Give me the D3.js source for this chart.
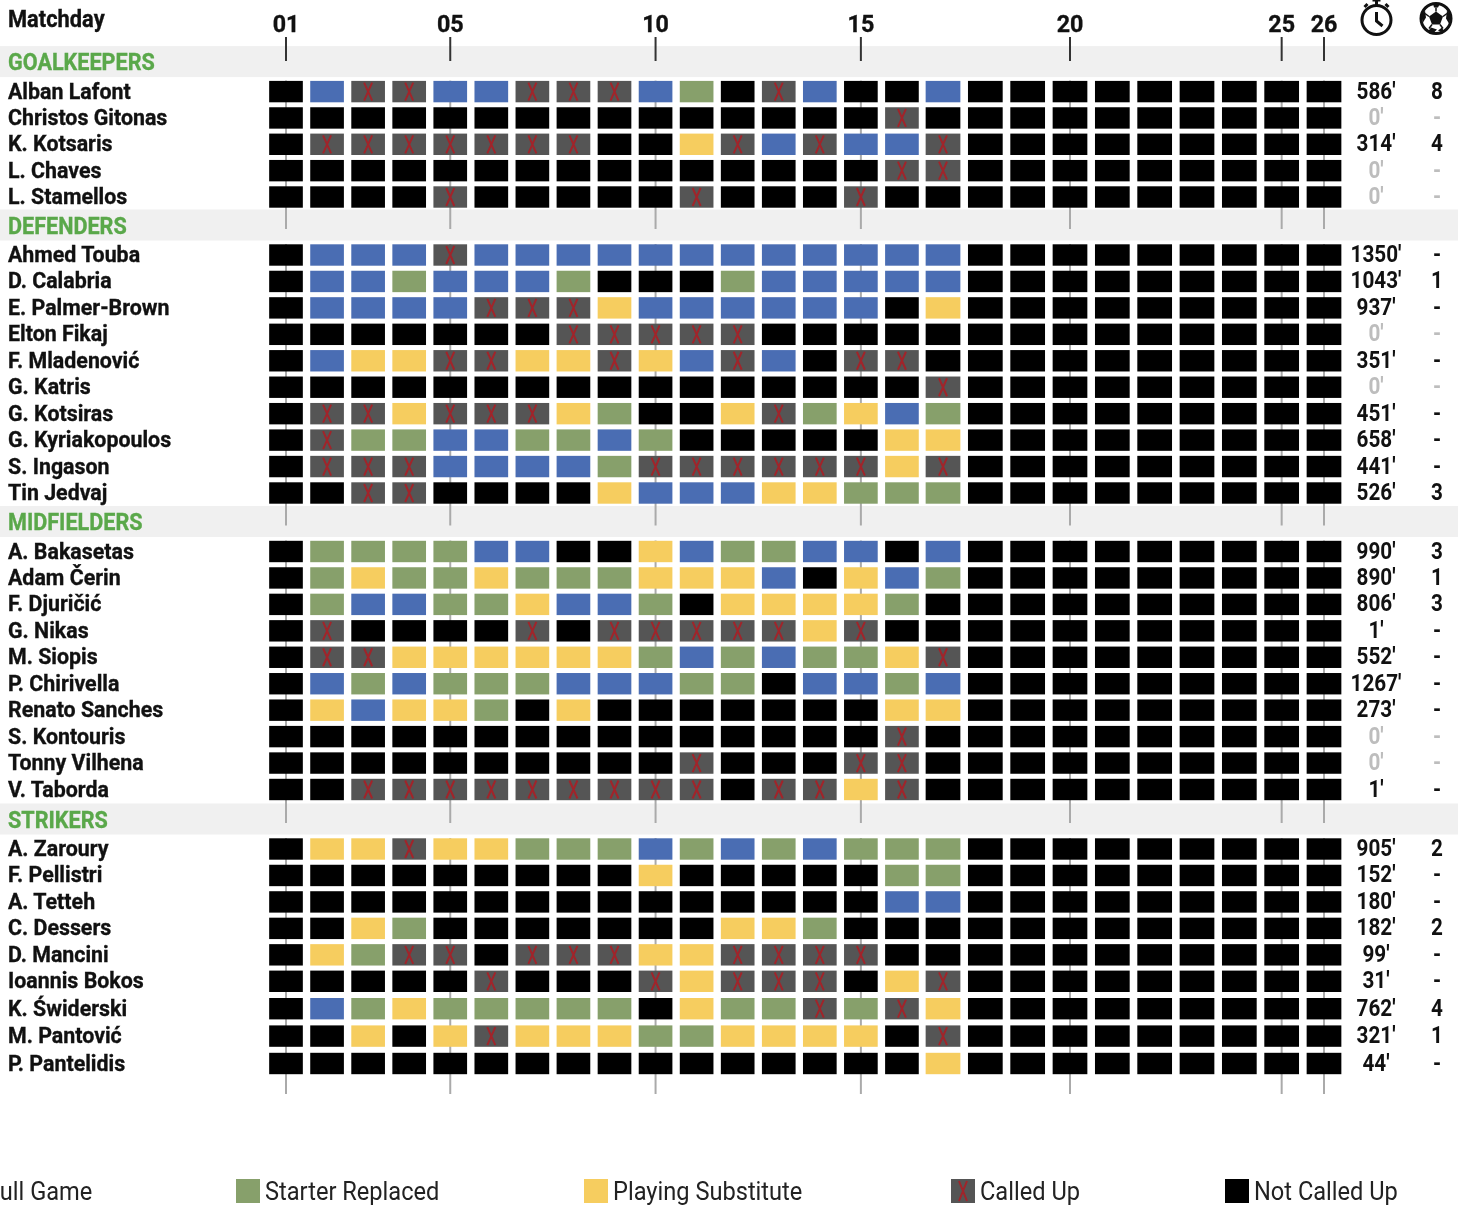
<!DOCTYPE html>
<html><head><meta charset="utf-8">
<script src="https://cdnjs.cloudflare.com/ajax/libs/d3/7.8.5/d3.min.js"></script>
<style>html,body{margin:0;padding:0;background:#fff;overflow:hidden}svg{display:block;filter:blur(.45px)}text{font-family:Roboto,sans-serif}</style>
</head><body><svg id="c" width="1458" height="1205"></svg>
<script>
const groups = ["GOALKEEPERS","DEFENDERS","MIDFIELDERS","STRIKERS"];
const groupSizes = [5,10,10,9];
const players = ["Alban Lafont","Christos Gitonas","K. Kotsaris","L. Chaves","L. Stamellos",
"Ahmed Touba","D. Calabria","E. Palmer-Brown","Elton Fikaj","F. Mladenović","G. Katris","G. Kotsiras","G. Kyriakopoulos","S. Ingason","Tin Jedvaj",
"A. Bakasetas","Adam Čerin","F. Djuričić","G. Nikas","M. Siopis","P. Chirivella","Renato Sanches","S. Kontouris","Tonny Vilhena","V. Taborda",
"A. Zaroury","F. Pellistri","A. Tetteh","C. Dessers","D. Mancini","Ioannis Bokos","K. Świderski","M. Pantović","P. Pantelidis"];
const matchStatus = [
"NFCCFFCCCFSNCFNNFNNNNNNNNN",
"NNNNNNNNNNNNNNNCNNNNNNNNNN",
"NCCCCCCCNNPCFCFFCNNNNNNNNN",
"NNNNNNNNNNNNNNNCCNNNNNNNNN",
"NNNNCNNNNNCNNNCNNNNNNNNNNN",
"NFFFCFFFFFFFFFFFFNNNNNNNNN",
"NFFSFFFSNNNSFFFFFNNNNNNNNN",
"NFFFFCCCPFFFFFFNPNNNNNNNNN",
"NNNNNNNCCCCCNNNNNNNNNNNNNN",
"NFPPCCPPCPFCFNCCNNNNNNNNNN",
"NNNNNNNNNNNNNNNNCNNNNNNNNN",
"NCCPCCCPSNNPCSPFSNNNNNNNNN",
"NCSSFFSSFSNNNNNPPNNNNNNNNN",
"NCCCFFFFSCCCCCCPCNNNNNNNNN",
"NNCCNNNNPFFFPPSSSNNNNNNNNN",
"NSSSSFFNNPFSSFFNFNNNNNNNNN",
"NSPSSPSSSPPPFNPFSNNNNNNNNN",
"NSFFSSPFFSNPPPPSNNNNNNNNNN",
"NCNNNNCNCCCCCPCNNNNNNNNNNN",
"NCCPPPPPPSFSFSSPCNNNNNNNNN",
"NFSFSSSFFFSSNFFSFNNNNNNNNN",
"NPFPPSNPNNNNNNNPPNNNNNNNNN",
"NNNNNNNNNNNNNNNCNNNNNNNNNN",
"NNNNNNNNNNCNNNCCNNNNNNNNNN",
"NNCCCCCCCCCNCCPCNNNNNNNNNN",
"NPPCPPSSSFSFSFSSSNNNNNNNNN",
"NNNNNNNNNPNNNNNSSNNNNNNNNN",
"NNNNNNNNNNNNNNNFFNNNNNNNNN",
"NNPSNNNNNNNPPSNNNNNNNNNNNN",
"NPSCCNCCCPPCCCCNNNNNNNNNNN",
"NNNNNCNNNCPCCCNPCNNNNNNNNN",
"NFSPSSSSSNPSSCSCPNNNNNNNNN",
"NNPNPCPPPSSPPPPNCNNNNNNNNN",
"NNNNNNNNNNNNNNNNPNNNNNNNNN"];
const minutes = [586,0,314,0,0, 1350,1043,937,0,351,0,451,658,441,526, 990,890,806,1,552,1267,273,0,0,1, 905,152,180,182,99,31,762,321,44];
const goals = ["8","-","4","-","-", "-","1","-","-","-","-","-","-","-","3", "3","1","3","-","-","-","-","-","-","-", "2","-","-","2","-","-","4","1","-"];
const tickDays = [1,5,10,15,20,25,26];
const statusKeys = ["F","S","P","C","N"];
const statusLabels = ["Full Game","Starter Replaced","Playing Substitute","Called Up","Not Called Up"];
const statusColors = ["#4a6db3","#87a06b","#f6cd5f","#555555","#000000"];

const svg = d3.select("#c");
const x = d3.scaleLinear().domain([1,17,26]).range([286,943,1324]);
const y = d3.scaleLinear().domain([0,4,5,14,15,24,25,30,33]).range([91.6,197,255,493,551.5,789.5,849,981.3,1063.5]);
const color = d3.scaleOrdinal().domain(statusKeys).range(statusColors);
const legendPos = d3.scaleOrdinal().domain(statusLabels).range([-42,236,584,951,1225]);
const W = 1458;
const cellW = d => (x(Math.min(d,25)+1)-x(Math.min(d,25)))*0.82;
const firstRows = d3.cumsum([0,...groupSizes.slice(0,-1)]);
const days = d3.range(1,27);
const condensed = (sel,tx,ty,k)=>sel.attr("transform",`translate(${tx},${ty}) scale(${k},1)`);
const heavy = sel=>sel.attr("stroke","currentColor").attr("stroke-width",.35);

// bands
svg.selectAll(".band").data(groups).join("rect").attr("class","band")
  .attr("x",0).attr("width",W).attr("y",(d,i)=>y(firstRows[i])-45.5).attr("height",31).attr("fill","#f0f0f0");
// tick lines
firstRows.forEach((fr,i)=>{
  const y0=y(fr)-11, y1=i<firstRows.length-1? y(firstRows[i+1])-26 : 1094;
  svg.append("g").selectAll("line").data(tickDays).join("line")
    .attr("x1",d=>x(d)).attr("x2",d=>x(d)).attr("y1",y0).attr("y2",y1)
    .attr("stroke","#aaa").attr("stroke-width",2);
});
svg.append("g").selectAll("line").data(tickDays).join("line")
  .attr("x1",d=>x(d)).attr("x2",d=>x(d)).attr("y1",37).attr("y2",61)
  .attr("stroke","#333").attr("stroke-width",2);
// tick labels
svg.append("g").attr("color","#111").selectAll("text").data(tickDays).join("text")
  .text(d=>String(d).padStart(2,"0"))
  .attr("text-anchor","middle").attr("font-size",24).attr("font-weight",700).attr("fill","#111").call(heavy)
  .each(function(d){condensed(d3.select(this),x(d),32,0.97)});
// group labels
svg.append("g").attr("color","#5aa84a").selectAll("text").data(groups).join("text").text(d=>d)
  .attr("font-size",24).attr("font-weight",700).attr("fill","#5aa84a").call(heavy)
  .each(function(d,i){condensed(d3.select(this),8,y(firstRows[i])-21.5,0.9)});
// Matchday
condensed(svg.append("text").text("Matchday").attr("color","#111").attr("font-size",23).attr("font-weight",700).attr("fill","#111").call(heavy),8,27,0.95);
// names
svg.append("g").attr("color","#111").selectAll("text").data(players).join("text").text(d=>d)
  .attr("font-size",23).attr("font-weight",700).attr("fill","#111").call(heavy)
  .each(function(d,i){condensed(d3.select(this),8,y(i)+7,0.93)});
// cells
const X = (g,h)=>g.append("path").attr("d",`M-4,${-h}L4,${h}M4,${-h}L-4,${h}`).attr("stroke","#a1242a").attr("stroke-width",2).attr("fill","none");
matchStatus.forEach((row,i)=>{
  const g = svg.append("g").attr("transform",`translate(0,${y(i)})`);
  const cells = g.selectAll("g").data(days).join("g").attr("transform",d=>`translate(${x(d)},0)`);
  cells.append("rect").attr("x",d=>-cellW(d)/2).attr("width",cellW).attr("y",-10.7).attr("height",21.4)
    .attr("fill",d=>color(row[d-1]));
  cells.filter(d=>row[d-1]==="C").call(s=>X(s,9));
});
// stats
svg.append("g").selectAll("text").data(minutes).join("text").text(d=>d+"'")
  .attr("text-anchor","middle").attr("font-size",23).attr("font-weight",700)
  .attr("fill",d=>d===0?"#bdbdbd":"#111")
  .each(function(d,i){condensed(d3.select(this),1376,y(i)+7,0.9)});
svg.append("g").selectAll("text").data(goals).join("text").text(d=>d)
  .attr("text-anchor","middle").attr("font-size",23).attr("font-weight",700)
  .attr("fill",(d,i)=>minutes[i]===0?"#bdbdbd":"#111")
  .each(function(d,i){condensed(d3.select(this),1437,y(i)+7,0.9)});
// clock
const clock = svg.append("g").attr("transform","translate(1376.5,20)").attr("fill","none").attr("stroke","#111").attr("stroke-width",3);
clock.append("circle").attr("r",14.5);
clock.append("path").attr("d","M0,-15V-19M-4,-20H4M-12,-13L-9,-16M12,-13L9,-16M0,-8V1L6,6");
// ball
const ball = svg.append("g").attr("transform","translate(1436,18.5)");
ball.append("circle").attr("r",15).attr("fill","#fff").attr("stroke","#111").attr("stroke-width",3);
ball.append("path").attr("fill","#111").attr("d","M0,-7L7,-2L4,6L-4,6L-7,-2ZM-3,-15L4,-15L2,-11L-2,-11ZM-15,-3L-11,-8L-10,-1L-13,4ZM15,-3L11,-8L10,0L13,5ZM-8,13L-5,9L1,11L-3,15ZM8,13L6,9L2,12L6,14Z");
ball.append("path").attr("fill","none").attr("stroke","#111").attr("stroke-width",1.5).attr("d","M0,-7V-11M7,-2L11,-5M-7,-2L-11,-5M4,6L7,10M-4,6L-7,10");
// legend
const lg = svg.append("g").selectAll("g").data(statusLabels).join("g").attr("transform",d=>`translate(${legendPos(d)},1191)`);
lg.append("rect").attr("y",-12).attr("width",24).attr("height",24).attr("fill",(d,i)=>statusColors[i]);
lg.filter(d=>d==="Called Up").append("g").attr("transform","translate(12,0)").call(s=>X(s,10));
lg.append("text").text(d=>d).attr("font-size",25).attr("fill","#222")
  .attr("transform","translate(29,9) scale(.945,1)");
</script></body></html>
